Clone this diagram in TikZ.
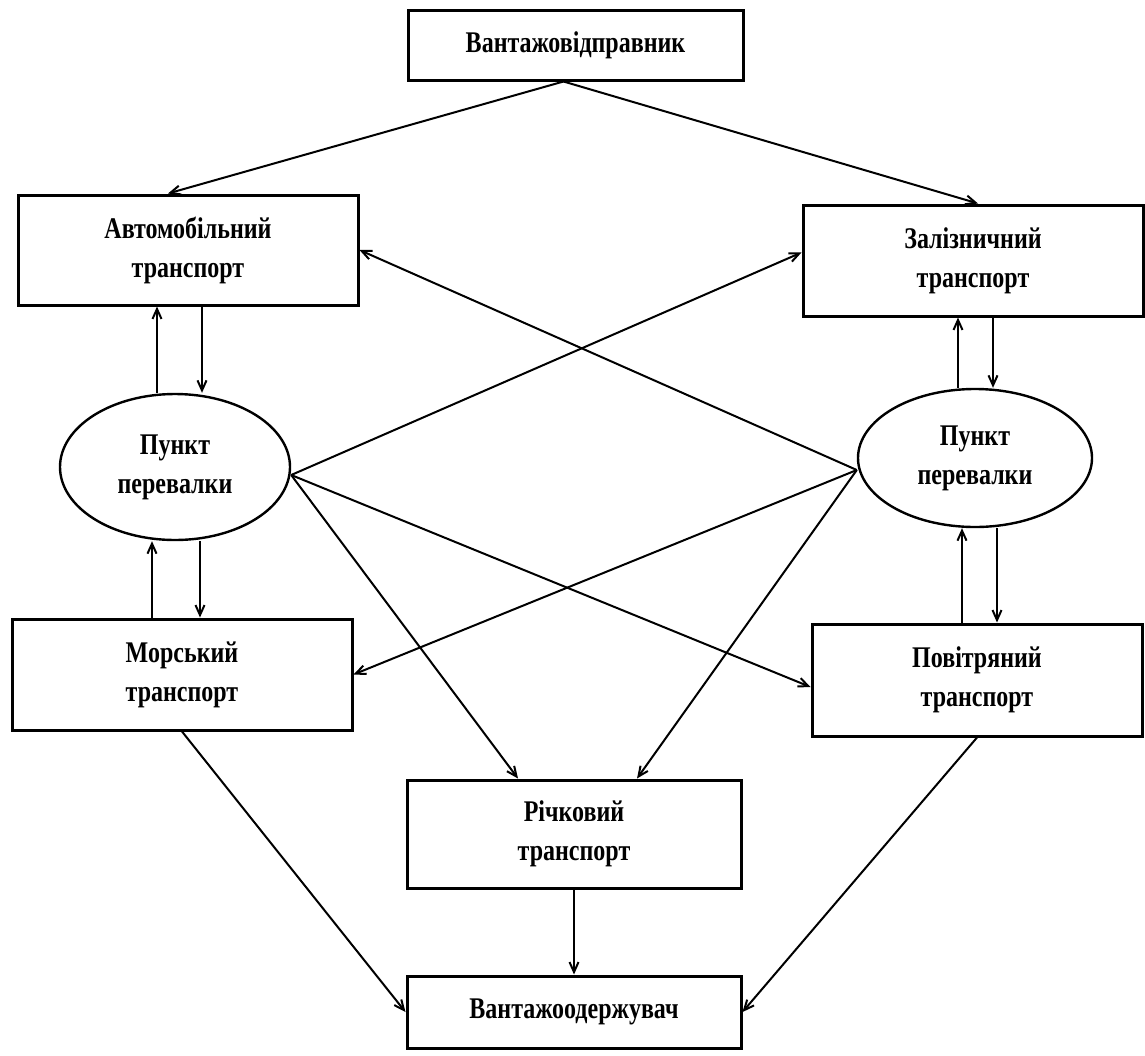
\documentclass[tikz,border=0pt]{standalone}
\usepackage{fontspec}
\setmainfont{Liberation Serif}[FakeStretch=0.8]
\usetikzlibrary{arrows.meta,shapes.geometric,positioning}

\tikzset{
  box/.style={draw, line width=3pt, rectangle, align=center, inner sep=0pt},
  hub/.style={draw, line width=2.4pt, ellipse, align=center, inner sep=0pt,
    minimum width=230pt, minimum height=146pt},
  arr/.style={-{Straight Barb[length=10pt,width=9pt]}, line width=2pt},
}

\begin{document}
\begin{tikzpicture}[x=1pt, y=-1pt, every node/.style={font=\fontsize{30}{39}\selectfont\bfseries}]
    \useasboundingbox (0,0) rectangle (1145,1055);

    %shipper and consignee
    \node[box, minimum width=335pt, minimum height=70pt] (src) at (575.5,45) {Вантажовідправник};
    \node[box, minimum width=334pt, minimum height=72pt] (dst) at (574,1012) {Вантажоодержувач};

    %modes of transport
    \node[box, minimum width=340pt, minimum height=110pt] (road) at (188,250) {Автомобільний\\транспорт};
    \node[box, minimum width=340pt, minimum height=111pt] (rail) at (973,260.5) {Залізничний\\транспорт};
    \node[box, minimum width=340pt, minimum height=111pt] (sea) at (182,674.5) {Морський\\транспорт};
    \node[box, minimum width=330pt, minimum height=112pt] (air) at (977,680) {Повітряний\\транспорт};
    \node[box, minimum width=334pt, minimum height=108pt] (river) at (574,834) {Річковий\\транспорт};

    %transshipment points
    \node[hub] (lp) at (175,467) {Пункт\\перевалки};
    \node[hub, minimum width=234pt, minimum height=138pt] (rp) at (975,458) {Пункт\\перевалки};

    \coordinate (srcout) at ([xshift=-12pt]src.south);
    \coordinate (lpout) at ([yshift=-8pt]lp.east);
    \coordinate (rpout) at ([yshift=-12pt]rp.west);

    \path[arr]
     (srcout) edge ([xshift=-20pt]road.north)
     (srcout) edge ([xshift=5pt]rail.north)
     (lpout) edge ([yshift=8pt]rail.west)
     (rpout) edge (road.east)
     (lpout) edge ([yshift=-7pt]air.west)
     (rpout) edge (sea.east)
     (lpout) edge ([xshift=-56pt]river.north)
     (rpout) edge ([xshift=63pt]river.north)
     (sea.south) edge (dst.west)
     (air.south) edge (dst.east)
     (river.south) edge (dst.north);

    %up and down between boxes and points
    \path[arr]
     ([xshift=-18pt]lp.north) edge ([xshift=-31pt]road.south)
     ([xshift=14pt]road.south) edge ([xshift=27pt]lp.north)
     ([xshift=-30pt]sea.north) edge ([xshift=-23pt]lp.south)
     ([xshift=25pt]lp.south) edge ([xshift=18pt]sea.north)
     ([xshift=-17pt]rp.north) edge ([xshift=-15pt]rail.south)
     ([xshift=20pt]rail.south) edge ([xshift=18pt]rp.north)
     ([xshift=-15pt]air.north) edge ([xshift=-13pt]rp.south)
     ([xshift=22pt]rp.south) edge ([xshift=20pt]air.north);
\end{tikzpicture}
\end{document}
